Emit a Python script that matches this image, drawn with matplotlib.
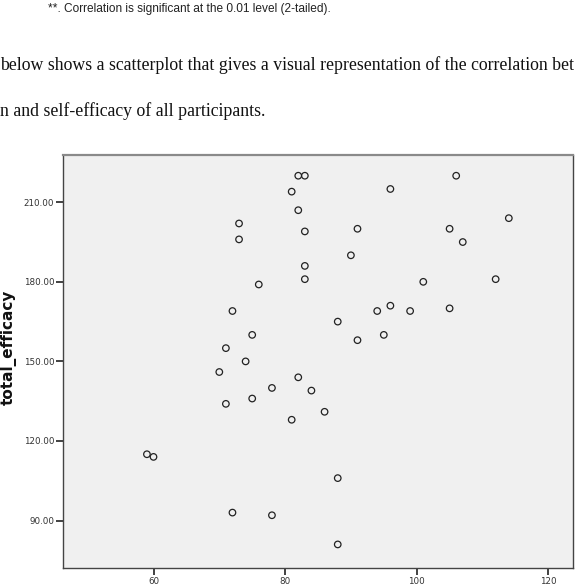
import matplotlib
matplotlib.use("Agg")
import matplotlib.pyplot as plt

# data read from the scatterplot
x_vals = [59, 60, 70, 71, 71, 72, 72, 73, 73, 74, 75, 75, 76, 78, 78, 81, 81,
          82, 82, 82, 83, 83, 83, 83, 84, 86, 88, 88, 88, 90, 91, 91, 94, 95,
          96, 96, 99, 101, 105, 105, 106, 107, 112, 114]
y_vals = [115, 114, 146, 155, 134, 169, 93, 202, 196, 150, 160, 136, 179, 140, 92, 214, 128,
          220, 207, 144, 220, 199, 186, 181, 139, 131, 165, 106, 81, 190, 200, 158, 169, 160,
          215, 171, 169, 180, 200, 170, 220, 195, 181, 204]

x_ticks = [60, 80, 100, 120]
y_ticks = [90, 120, 150, 180, 210]
y_tick_labels = ["90.00", "120.00", "150.00", "180.00", "210.00"]
y_label = "total_efficacy"

note_text = "**. Correlation is significant at the 0.01 level (2-tailed)."
line2 = "below shows a scatterplot that gives a visual representation of the correlation bet"
line3 = "n and self-efficacy of all participants."

W, H = 576, 586
fig = plt.figure(figsize=(W / 100, H / 100), dpi=100)
fig.patch.set_facecolor("white")

left, right, top, bottom = 62.7, 573.3, 155.3, 568.3
ax = fig.add_axes([left / W, 1 - bottom / H, (right - left) / W, (bottom - top) / H])
ax.set_facecolor("#f0f0f0")
ax.scatter(x_vals, y_vals, s=22, facecolors="none", edgecolors="#222222", linewidths=0.9, zorder=3)

ax.set_xlim(46.2, 123.8)
ax.set_ylim(72.0, 227.7)
ax.set_xticks(x_ticks)
ax.set_xticklabels([str(t) for t in x_ticks])
ax.set_yticks(y_ticks)
ax.set_yticklabels(y_tick_labels)
ax.tick_params(axis="both", direction="out", length=5, width=1.3, color="#333333",
               labelsize=6.3, labelcolor="#333333", pad=1)

for side in ["left", "bottom", "right"]:
    ax.spines[side].set_color("#444444")
    ax.spines[side].set_linewidth(1.0)
ax.spines["top"].set_color("#8a8a8a")
ax.spines["top"].set_linewidth(1.6)

fig.text(9 / W, 1 - 347 / H, y_label, rotation=90, ha="center", va="center",
         fontsize=11, fontweight="bold", family="DejaVu Sans", color="#111111")

fig.text(48 / W, 1 - 9 / H, note_text, ha="left", va="center",
         fontsize=8.6, family="Liberation Sans", color="#222222")
fig.text(0.5 / W, 1 - 65 / H, line2, ha="left", va="center",
         fontsize=12.75, family="Liberation Serif", color="#111111")
fig.text(0.5 / W, 1 - 111 / H, line3, ha="left", va="center",
         fontsize=12.75, family="Liberation Serif", color="#111111")

fig.savefig("out.png", dpi=100)
